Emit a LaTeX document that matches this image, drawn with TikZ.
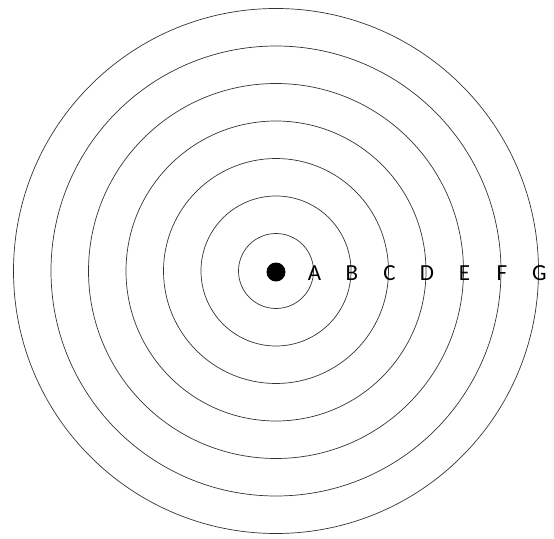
\documentclass[tikz,border=0pt]{standalone}
\usepackage{fontspec}
\setmainfont{Carlito}
\begin{document}
\begin{tikzpicture}[x=1pt,y=1pt,
  ring/.style={draw=black!80,line width=0.7pt},
  lbl/.style={font=\fontsize{23}{25}\selectfont,inner sep=0pt,text=black}]
\useasboundingbox (-276,-267) rectangle (278,271);
\foreach \i in {1,...,7}{
  \draw[ring] (0,0) circle ({37.5*\i});
}
\fill[black] (0,-1) circle (9.5) node (dot) {};
\foreach \l [count=\i] in {A,B,C,D,E,F,G}{
  \node[lbl] (l\l) at ({37.5*\i+1},-2) {\l};
}
\end{tikzpicture}
\end{document}
